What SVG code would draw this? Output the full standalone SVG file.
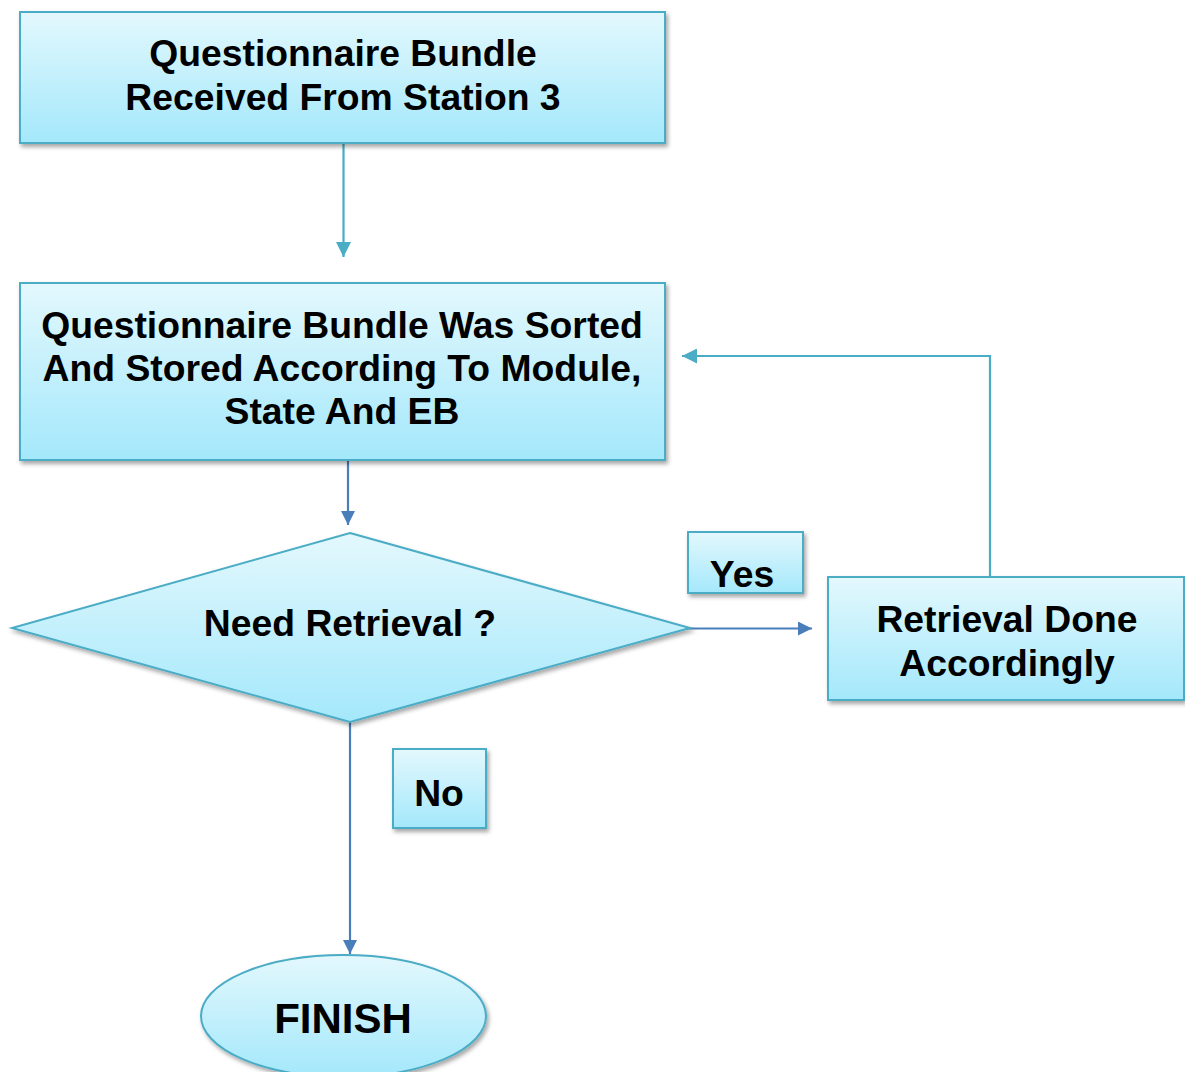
<svg xmlns="http://www.w3.org/2000/svg" width="1185" height="1072" viewBox="0 0 1185 1072">
  <style>
    .shape { fill: url(#fillGrad); stroke: #4bacc6; stroke-width: 2; filter: url(#shadow); }
    .label { font-family: "Liberation Sans", Arial, sans-serif; font-weight: bold; font-size: 37.3px; fill: #000; text-anchor: middle; }
    .teal { fill: none; stroke: #4bacc6; stroke-width: 2.2; }
    .blue { fill: none; stroke: #4a7ebb; stroke-width: 2.2; }
  </style>
  <defs>
    <linearGradient id="fillGrad" x1="0" y1="0" x2="0" y2="1">
      <stop offset="0" stop-color="#e3f8fd"/>
      <stop offset="1" stop-color="#a4e8fb"/>
    </linearGradient>
    <filter id="shadow" x="-10%" y="-10%" width="130%" height="130%">
      <feDropShadow dx="2" dy="3" stdDeviation="2" flood-color="#000" flood-opacity="0.35"/>
    </filter>
    <marker id="arrowTeal" viewBox="0 0 16 16" refX="16" refY="8" markerWidth="16" markerHeight="15" markerUnits="userSpaceOnUse" orient="auto">
      <path d="M0,0 L16,8 L0,16 z" fill="#4bacc6"/>
    </marker>
    <marker id="arrowBlue" viewBox="0 0 16 16" refX="16" refY="8" markerWidth="15" markerHeight="14" markerUnits="userSpaceOnUse" orient="auto">
      <path d="M0,0 L16,8 L0,16 z" fill="#4a7ebb"/>
    </marker>
  </defs>

  <rect width="1185" height="1072" fill="#ffffff"/>

  <!-- connectors -->
  <g id="connectors">
    <path class="teal" d="M343.5,143 V257" marker-end="url(#arrowTeal)"/>
    <path class="blue" d="M348,460 V525" marker-end="url(#arrowBlue)"/>
    <path class="blue" d="M680,628.5 H812" marker-end="url(#arrowBlue)"/>
    <path class="blue" d="M350,722 V954" marker-end="url(#arrowBlue)"/>
    <path class="teal" d="M990,577 V356 H682" marker-end="url(#arrowTeal)"/>
  </g>

  <!-- start box -->
  <g id="node-received">
    <rect class="shape" x="20" y="12" width="645" height="131"/>
    <text class="label" x="343" y="66">Questionnaire Bundle</text>
    <text class="label" x="343" y="110">Received From Station 3</text>
  </g>

  <!-- sorting and storing -->
  <g id="node-sorted">
    <rect class="shape" x="20" y="283" width="645" height="177"/>
    <text class="label" x="342" y="338">Questionnaire Bundle Was Sorted</text>
    <text class="label" x="342" y="381">And Stored According To Module,</text>
    <text class="label" x="342" y="424">State And EB</text>
  </g>

  <!-- decision -->
  <g id="node-decision">
    <polygon class="shape" points="350,533 690,628 350,722 12,628"/>
    <text class="label" x="350" y="636">Need Retrieval ?</text>
  </g>

  <!-- yes label -->
  <g id="label-yes">
    <rect class="shape" x="688" y="532" width="115" height="61"/>
    <text class="label" x="742" y="587">Yes</text>
  </g>

  <!-- retrieval -->
  <g id="node-retrieval">
    <rect class="shape" x="828" y="577" width="356" height="123"/>
    <text class="label" x="1007" y="632">Retrieval Done</text>
    <text class="label" x="1007" y="676">Accordingly</text>
  </g>

  <!-- no label -->
  <g id="label-no">
    <rect class="shape" x="393" y="749" width="93" height="79"/>
    <text class="label" x="439" y="806">No</text>
  </g>

  <!-- end -->
  <g id="node-finish">
    <ellipse class="shape" cx="343.5" cy="1016" rx="142.5" ry="61"/>
    <text class="label" x="343" y="1033" style="font-size:42px">FINISH</text>
  </g>
</svg>
